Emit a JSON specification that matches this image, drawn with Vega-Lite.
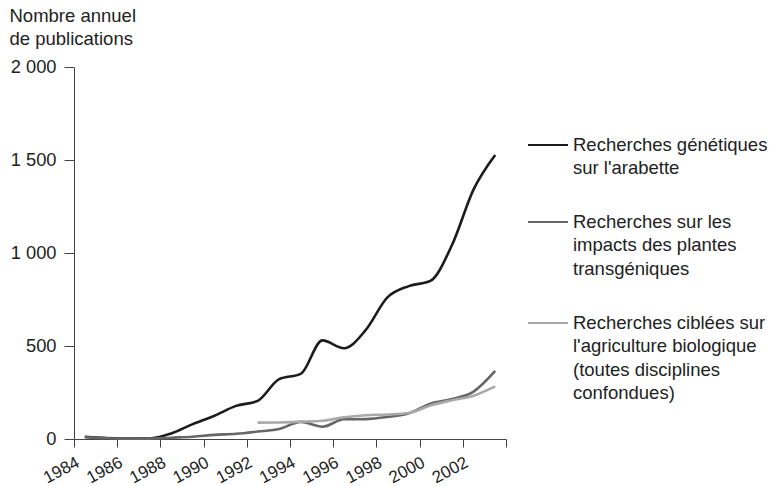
{
  "$schema": "https://vega.github.io/schema/vega-lite/v6.json",
  "width": 432,
  "height": 372,
  "autosize": {"type": "none"},
  "padding": {"left": 74, "top": 67, "right": 263, "bottom": 47},
  "background": "white",
  "config": {
    "view": {"stroke": null},
    "font": "Liberation Sans",
    "axis": {"domainColor": "#444", "tickColor": "#444", "labelColor": "#222", "titleColor": "#222", "grid": false, "labelFont": "Liberation Sans", "titleFont": "Liberation Sans", "titleFontWeight": "normal"}
  },
  "data": {
    "values": [
      {"annee": 1984.5, "serie": "A", "n": 12},
      {"annee": 1985.5, "serie": "A", "n": 5},
      {"annee": 1986.5, "serie": "A", "n": 2},
      {"annee": 1987.5, "serie": "A", "n": 3},
      {"annee": 1988.5, "serie": "A", "n": 30},
      {"annee": 1989.5, "serie": "A", "n": 80},
      {"annee": 1990.5, "serie": "A", "n": 125},
      {"annee": 1991.5, "serie": "A", "n": 178},
      {"annee": 1992.5, "serie": "A", "n": 205},
      {"annee": 1993.5, "serie": "A", "n": 322},
      {"annee": 1994.5, "serie": "A", "n": 350},
      {"annee": 1995.5, "serie": "A", "n": 530},
      {"annee": 1996.5, "serie": "A", "n": 488},
      {"annee": 1997.5, "serie": "A", "n": 585},
      {"annee": 1998.5, "serie": "A", "n": 760},
      {"annee": 1999.5, "serie": "A", "n": 822},
      {"annee": 2000.5, "serie": "A", "n": 850},
      {"annee": 2001.5, "serie": "A", "n": 1043},
      {"annee": 2002.5, "serie": "A", "n": 1342},
      {"annee": 2003.5, "serie": "A", "n": 1527},
      {"annee": 1984.5, "serie": "B", "n": 10},
      {"annee": 1985.5, "serie": "B", "n": 4},
      {"annee": 1986.5, "serie": "B", "n": 1},
      {"annee": 1987.5, "serie": "B", "n": 2},
      {"annee": 1988.5, "serie": "B", "n": 7},
      {"annee": 1989.5, "serie": "B", "n": 12},
      {"annee": 1990.5, "serie": "B", "n": 22},
      {"annee": 1991.5, "serie": "B", "n": 28},
      {"annee": 1992.5, "serie": "B", "n": 40},
      {"annee": 1993.5, "serie": "B", "n": 54},
      {"annee": 1994.5, "serie": "B", "n": 92},
      {"annee": 1995.5, "serie": "B", "n": 66},
      {"annee": 1996.5, "serie": "B", "n": 106},
      {"annee": 1997.5, "serie": "B", "n": 107},
      {"annee": 1998.5, "serie": "B", "n": 118},
      {"annee": 1999.5, "serie": "B", "n": 138},
      {"annee": 2000.5, "serie": "B", "n": 190},
      {"annee": 2001.5, "serie": "B", "n": 215},
      {"annee": 2002.5, "serie": "B", "n": 255},
      {"annee": 2003.5, "serie": "B", "n": 366},
      {"annee": 1992.5, "serie": "C", "n": 88},
      {"annee": 1993.5, "serie": "C", "n": 89},
      {"annee": 1994.5, "serie": "C", "n": 93},
      {"annee": 1995.5, "serie": "C", "n": 98},
      {"annee": 1996.5, "serie": "C", "n": 117},
      {"annee": 1997.5, "serie": "C", "n": 128},
      {"annee": 1998.5, "serie": "C", "n": 132},
      {"annee": 1999.5, "serie": "C", "n": 140},
      {"annee": 2000.5, "serie": "C", "n": 180},
      {"annee": 2001.5, "serie": "C", "n": 208},
      {"annee": 2002.5, "serie": "C", "n": 233},
      {"annee": 2003.5, "serie": "C", "n": 283}
    ]
  },
  "mark": {"type": "line", "interpolate": "monotone", "strokeWidth": 2.6},
  "encoding": {
    "x": {
      "field": "annee", "type": "quantitative",
      "scale": {"domain": [1984, 2004], "nice": false, "zero": false},
      "axis": {
        "title": null,
        "values": [1984, 1986, 1988, 1990, 1992, 1994, 1996, 1998, 2000, 2002, 2004],
        "labelExpr": "datum.value == 2004 ? '' : datum.label",
        "format": "d",
        "labelAngle": -28,
        "labelAlign": "right",
        "labelBaseline": "top",
        "labelFontSize": 17,
        "tickSize": 8,
        "labelPadding": 7,
        "labelOverlap": false
      }
    },
    "y": {
      "field": "n", "type": "quantitative",
      "scale": {"domain": [0, 2000], "nice": false},
      "axis": {
        "values": [0, 500, 1000, 1500, 2000],
        "labelExpr": "replace(format(datum.value, ','), ',', ' ')",
        "labelFontSize": 18.3,
        "tickSize": 10,
        "labelPadding": 8,
        "title": ["Nombre annuel", "de publications"],
        "titleAngle": 0,
        "titleAlign": "left",
        "titleBaseline": "top",
        "titleX": -65,
        "titleY": -61,
        "titleFontSize": 18.5,
        "titleLineHeight": 23
      }
    },
    "color": {
      "field": "serie", "type": "nominal",
      "scale": {"domain": ["A", "B", "C"], "range": ["#1c1c1c", "#666666", "#a9a9a9"]},
      "legend": {
        "title": null,
        "orient": "none",
        "legendX": 453,
        "legendY": 57,
        "symbolType": "stroke",
        "symbolSize": 1600,
        "symbolStrokeWidth": 2,
        "labelOffset": 4,
        "labelFontSize": 18.5,
        "labelLimit": 300,
        "labelColor": "#222",
        "rowPadding": 23,
        "encode": {"labels": {"update": {"lineHeight": {"value": 23.3}}}},
        "labelExpr": "datum.value == 'A' ? ['Recherches génétiques', 'sur l\\'arabette'] : datum.value == 'B' ? ['Recherches sur les', 'impacts des plantes', 'transgéniques'] : ['Recherches ciblées sur', 'l\\'agriculture biologique', '(toutes disciplines', 'confondues)']"
      }
    }
  }
}
